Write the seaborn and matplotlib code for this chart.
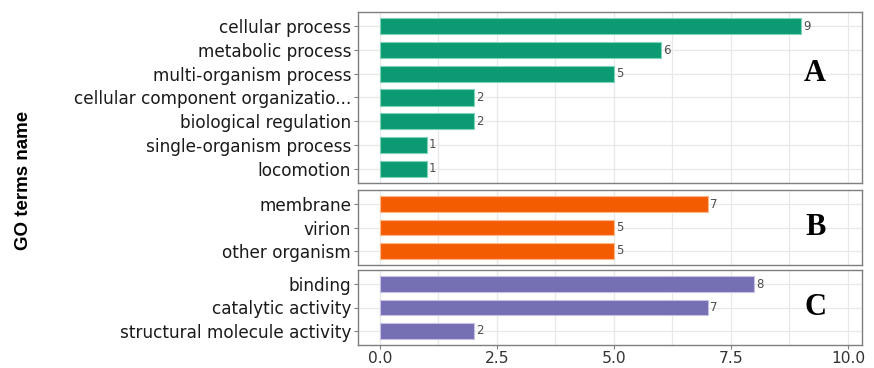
import matplotlib
matplotlib.use("Agg")
import matplotlib.pyplot as plt
import seaborn as sns
import pandas as pd

# GO categories, terms and gene counts
bp_terms = ["cellular process", "metabolic process", "multi-organism process",
            "cellular component organizatio...", "biological regulation",
            "single-organism process", "locomotion"]
bp_counts = [9, 6, 5, 2, 2, 1, 1]

cc_terms = ["membrane", "virion", "other organism"]
cc_counts = [7, 5, 5]

mf_terms = ["binding", "catalytic activity", "structural molecule activity"]
mf_counts = [8, 7, 2]

panel_tags = ["A", "B", "C"]
panel_colors = ["#0B9A72", "#F45C02", "#756FB3"]
edge_colors = ["#7FD3B8", "#FBB98A", "#C4C1E3"]
x_ticks = [0.0, 2.5, 5.0, 7.5, 10.0]
x_tick_labels = ["0.0", "2.5", "5.0", "7.5", "10.0"]

sns.set_theme(style="whitegrid")
plt.rcParams["font.family"] = ["DejaVu Sans"]

fig = plt.figure(figsize=(8.74, 3.68), dpi=100)
W, H = 874, 368
left_px, right_px = 358, 862
# vertical extents (top, bottom) in pixels of the three facet panels
extents = [(12, 183), (190, 265), (270, 345)]

groups = [(bp_terms, bp_counts), (cc_terms, cc_counts), (mf_terms, mf_counts)]
tag_rows = [2, 1, 1]
axes = []
for i, ((terms, counts), (top, bot)) in enumerate(zip(groups, extents)):
    ax = fig.add_axes([left_px / W, 1 - bot / H, (right_px - left_px) / W, (bot - top) / H])
    df = pd.DataFrame({"term": terms, "count": counts})
    sns.barplot(data=df, x="count", y="term", orient="h", ax=ax,
                color=panel_colors[i], saturation=1, width=0.68,
                edgecolor=edge_colors[i], linewidth=0.8)
    n = len(terms)
    ax.set_ylim(n - 0.4, -0.6)
    ax.set_xlim(-0.47, 10.3)
    ax.set_xticks(x_ticks)
    ax.set_xticks([1.25, 3.75, 6.25, 8.75], minor=True)
    ax.grid(True, which="both", axis="x", color="#E8E8E8", linewidth=0.9)
    ax.grid(True, which="major", axis="y", color="#E8E8E8", linewidth=0.9)
    ax.set_axisbelow(True)
    ax.set_facecolor("white")
    for s in ax.spines.values():
        s.set_color("#7F7F7F")
        s.set_linewidth(1.0)
    ax.set_xlabel("")
    ax.set_ylabel("")
    ax.tick_params(axis="y", which="major", length=3, width=0.8, color="#7F7F7F",
                   labelsize=12.2, labelcolor="#1A1A1A", pad=2, left=True)
    ax.tick_params(axis="x", which="minor", length=0)
    if i < 2:
        ax.tick_params(axis="x", which="major", length=0, labelbottom=False)
    else:
        ax.tick_params(axis="x", which="major", length=3, width=0.8, color="#7F7F7F",
                       labelsize=11.2, labelcolor="#333333", pad=1, bottom=True)
        ax.set_xticklabels(x_tick_labels)
    for c in ax.containers:
        ax.bar_label(c, labels=[str(v) for v in counts], padding=1.5,
                     fontsize=8.5, color="#4D4D4D")
    ax.text(9.3, tag_rows[i], panel_tags[i], ha="center", va="center",
            fontsize=22, fontweight="bold", family=["Liberation Serif", "DejaVu Serif"],
            color="black")
    axes.append(ax)

fig.text(24 / W, 1 - 180 / H, "GO terms name", rotation=90, ha="center", va="center",
         fontsize=13.5, fontweight="bold",
         family=["Liberation Sans Narrow", "Liberation Sans", "DejaVu Sans"],
         color="black")

fig.savefig("out.png", dpi=100)
